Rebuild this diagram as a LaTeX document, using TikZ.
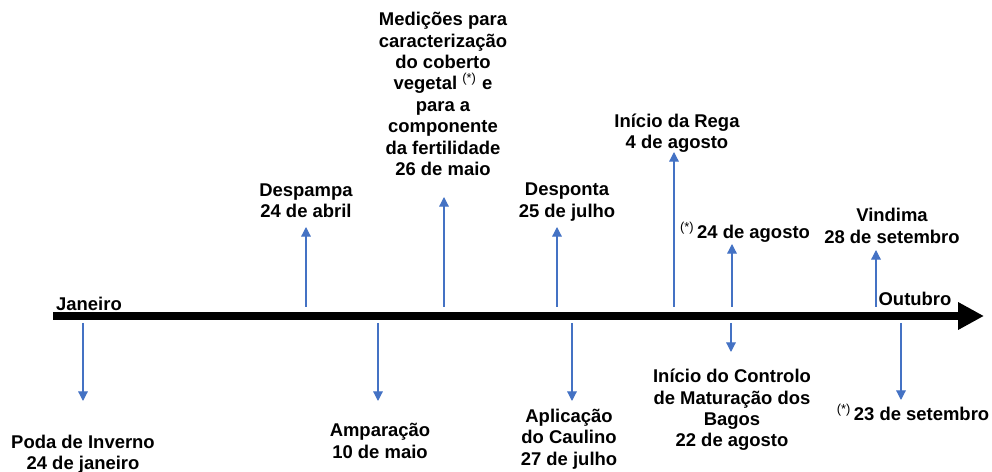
\documentclass[tikz,border=0pt]{standalone}
\usepackage{fontspec}
\setmainfont{Liberation Sans}
\usetikzlibrary{arrows.meta}
\definecolor{evblue}{RGB}{68,114,196}
\def\evnode{\node[align=center,font=\bfseries\fontsize{10.5}{12.2}\selectfont,inner sep=0pt]}
\def\nota{\textsuperscript{\mdseries(*)}}

\begin{document}
\begin{tikzpicture}[x=0.02cm,y=-0.02cm,
  evarrow/.style={draw=evblue,line width=0.7pt,-{Triangle[length=5.5pt,width=5.5pt]}}]
\useasboundingbox (0,0) rectangle (992,472);
\coordinate (start) at (53,316);
\coordinate (end) at (984,316);
\draw[line width=5pt,-{Triangle[length=14.7pt,width=14.7pt]}] (start) -- (end);
\evnode (jan) at (89,304) {Janeiro};
\evnode (out) at (915,299) {Outubro};

\evnode (despampa) at (306,201) {Despampa\\24 de abril};
\evnode (medic) at (443,94) {Medições para\\caracterização\\do coberto\\vegetal \nota{} e\\para a\\componente\\da fertilidade\\26 de maio};
\evnode (desponta) at (567,202) {Desponta\\25 de julho};
\evnode (rega) at (677,133) {Início da Rega\\4 de agosto};
\evnode (ago) at (745,232) {\nota\hspace{1.5pt}24 de agosto};
\evnode (vindima) at (892,226) {Vindima\\28 de setembro};

\evnode (poda) at (83,454) {Poda de Inverno\\24 de janeiro};
\evnode (ampar) at (380,441) {Amparação\\10 de maio};
\evnode (caulino) at (569,439) {Aplicação\\do Caulino\\27 de julho};
\evnode (controlo) at (732,410) {Início do Controlo\\de Maturação dos\\Bagos\\22 de agosto};
\evnode (setembro) at (913,412) {\nota\hspace{1.5pt}23 de setembro};

\coordinate (despampa-a) at (306,307);
\coordinate (despampa-t) at (306,227);
\coordinate (medic-a) at (444,307);
\coordinate (medic-t) at (444,197);
\coordinate (desponta-a) at (557,307);
\coordinate (desponta-t) at (557,227);
\coordinate (rega-a) at (674,307);
\coordinate (rega-t) at (674,152);
\coordinate (ago-a) at (732,307);
\coordinate (ago-t) at (732,244);
\coordinate (vindima-a) at (876,307);
\coordinate (vindima-t) at (876,250);
\draw[evarrow] (despampa-a) -- (despampa-t);
\draw[evarrow] (medic-a) -- (medic-t);
\draw[evarrow] (desponta-a) -- (desponta-t);
\draw[evarrow] (rega-a) -- (rega-t);
\draw[evarrow] (ago-a) -- (ago-t);
\draw[evarrow] (vindima-a) -- (vindima-t);

\coordinate (poda-a) at (83,323);
\coordinate (poda-t) at (83,401);
\coordinate (ampar-a) at (378,323);
\coordinate (ampar-t) at (378,401);
\coordinate (caulino-a) at (572,323);
\coordinate (caulino-t) at (572,401);
\coordinate (controlo-a) at (731,323);
\coordinate (controlo-t) at (731,352);
\coordinate (setembro-a) at (901,323);
\coordinate (setembro-t) at (901,400);
\draw[evarrow] (poda-a) -- (poda-t);
\draw[evarrow] (ampar-a) -- (ampar-t);
\draw[evarrow] (caulino-a) -- (caulino-t);
\draw[evarrow] (controlo-a) -- (controlo-t);
\draw[evarrow] (setembro-a) -- (setembro-t);
\end{tikzpicture}
\end{document}
